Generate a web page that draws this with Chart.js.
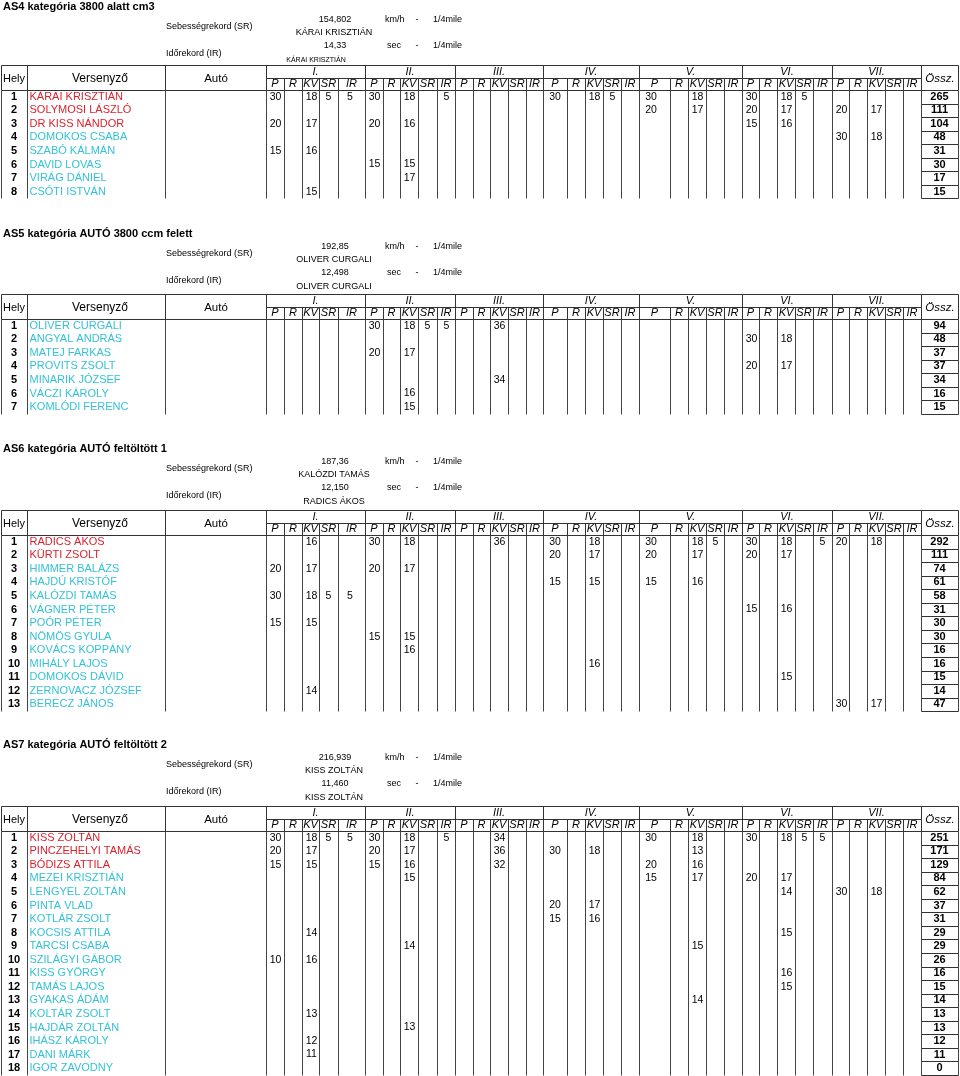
<!DOCTYPE html>
<html>
<head>
<meta charset="utf-8">
<script src="https://cdn.jsdelivr.net/npm/chart.js@4.4.1/dist/chart.umd.min.js"></script>
<style>
    body { margin: 0; background: #fff; }
    canvas { display: block; }
</style>
</head>
<body>
<canvas id="resultsChart" width="960" height="1076"></canvas>
<script>
// Column headers
const rounds = ['I.', 'II.', 'III.', 'IV.', 'V.', 'VI.', 'VII.'];
const scoreCols = ['P', 'R', 'KV', 'SR', 'IR'];

// AS4
const as4Title = 'AS4 kategória 3800 alatt cm3';
const as4Records = ['154,802', 'KÁRAI KRISZTIÁN', '14,33', 'KÁRAI KRISZTIÁN'];
const as4Names = ['KÁRAI KRISZTIÁN', 'SOLYMOSI LÁSZLÓ', 'DR KISS NÁNDOR', 'DOMOKOS CSABA',
    'SZABÓ KÁLMÁN', 'DAVID LOVAS', 'VIRÁG DÁNIEL', 'CSÓTI ISTVÁN'];
const as4RedCount = 3;
const as4Scores = [
    [[30, , 18, 5, 5], [30, , 18, , 5], [], [30, , 18, 5], [30, , 18], [30, , 18, 5], []],
    [[], [], [], [], [20, , 17], [20, , 17], [20, , 17]],
    [[20, , 17], [20, , 16], [], [], [], [15, , 16]],
    [[], [], [], [], [], [], [30, , 18]],
    [[15, , 16]],
    [[], [15, , 15]],
    [[], [, , 17]],
    [[, , 15]]
];
const as4Totals = [265, 111, 104, 48, 31, 30, 17, 15];

// AS5
const as5Title = 'AS5 kategória AUTÓ 3800 ccm felett';
const as5Records = ['192,85', 'OLIVER CURGALI', '12,498', 'OLIVER CURGALI'];
const as5Names = ['OLIVER CURGALI', 'ANGYAL ANDRÁS', 'MATEJ FARKAS', 'PROVITS ZSOLT',
    'MINARIK JÓZSEF', 'VÁCZI KÁROLY', 'KOMLÓDI FERENC'];
const as5RedCount = 0;
const as5Scores = [
    [[], [30, , 18, 5, 5], [, , 36]],
    [[], [], [], [], [], [30, , 18]],
    [[], [20, , 17]],
    [[], [], [], [], [], [20, , 17]],
    [[], [], [, , 34]],
    [[], [, , 16]],
    [[], [, , 15]]
];
const as5Totals = [94, 48, 37, 37, 34, 16, 15];

// AS6
const as6Title = 'AS6 kategória AUTÓ feltöltött 1';
const as6Records = ['187,36', 'KALÓZDI TAMÁS', '12,150', 'RADICS ÁKOS'];
const as6Names = ['RADICS ÁKOS', 'KÜRTI ZSOLT', 'HIMMER BALÁZS', 'HAJDÚ KRISTÓF', 'KALÓZDI TAMÁS',
    'VÁGNER PÉTER', 'POÓR PÉTER', 'NÖMÖS GYULA', 'KOVÁCS KOPPÁNY', 'MIHÁLY LAJOS',
    'DOMOKOS DÁVID', 'ZERNOVACZ JÓZSEF', 'BERECZ JÁNOS'];
const as6RedCount = 2;
const as6Scores = [
    [[, , 16], [30, , 18], [, , 36], [30, , 18], [30, , 18, 5], [30, , 18, , 5], [20, , 18]],
    [[], [], [], [20, , 17], [20, , 17], [20, , 17]],
    [[20, , 17], [20, , 17]],
    [[], [], [], [15, , 15], [15, , 16]],
    [[30, , 18, 5, 5]],
    [[], [], [], [], [], [15, , 16]],
    [[15, , 15]],
    [[], [15, , 15]],
    [[], [, , 16]],
    [[], [], [], [, , 16]],
    [[], [], [], [], [], [, , 15]],
    [[, , 14]],
    [[], [], [], [], [], [], [30, , 17]]
];
const as6Totals = [292, 111, 74, 61, 58, 31, 30, 30, 16, 16, 15, 14, 47];

// AS7
const as7Title = 'AS7 kategória AUTÓ feltöltött 2';
const as7Records = ['216,939', 'KISS ZOLTÁN', '11,460', 'KISS ZOLTÁN'];
const as7Names = ['KISS ZOLTÁN', 'PINCZEHELYI TAMÁS', 'BÓDIZS ATTILA', 'MEZEI KRISZTIÁN',
    'LENGYEL ZOLTÁN', 'PINTA VLAD', 'KOTLÁR ZSOLT', 'KOCSIS ATTILA', 'TARCSI CSABA',
    'SZILÁGYI GÁBOR', 'KISS GYÖRGY', 'TAMÁS LAJOS', 'GYAKAS ÁDÁM', 'KOLTÁR ZSOLT',
    'HAJDÁR ZOLTÁN', 'IHÁSZ KÁROLY', 'DANI MÁRK', 'IGOR ZAVODNY'];
const as7RedCount = 3;
const as7Scores = [
    [[30, , 18, 5, 5], [30, , 18, , 5], [, , 34], [], [30, , 18], [30, , 18, 5, 5]],
    [[20, , 17], [20, , 17], [, , 36], [30, , 18], [, , 13]],
    [[15, , 15], [15, , 16], [, , 32], [], [20, , 16]],
    [[], [, , 15], [], [], [15, , 17], [20, , 17]],
    [[], [], [], [], [], [, , 14], [30, , 18]],
    [[], [], [], [20, , 17]],
    [[], [], [], [15, , 16]],
    [[, , 14], [], [], [], [], [, , 15]],
    [[], [, , 14], [], [], [, , 15]],
    [[10, , 16]],
    [[], [], [], [], [], [, , 16]],
    [[], [], [], [], [], [, , 15]],
    [[], [], [], [], [, , 14]],
    [[, , 13]],
    [[], [, , 13]],
    [[, , 12]],
    [[, , 11]],
    []
];
const as7Totals = [251, 171, 129, 84, 62, 37, 31, 29, 29, 26, 16, 15, 14, 13, 13, 12, 11, 0];

// layout (page units, mapped through the chart scales)
const tableTops = [65, 294, 510, 806];
const headShift = [2, 0, -1, -1.5];
const fixedEdges = [1, 27, 165, 266];
const roundEdges = [
    [266, 284, 302, 319, 338, 365],
    [365, 383, 400, 418, 437, 455],
    [455, 473, 490, 508, 526, 543],
    [543, 567, 585, 603, 621, 639],
    [639, 670, 688, 706, 724, 742],
    [742, 759, 777, 795, 813, 832],
    [832, 849, 867, 885, 903, 921]
];
const totalEdges = [921, 958];
const GROUP_H = 12.5;
const HEAD_H = 25;
const ROW_H = 13.55;

const RED = '#d9232e';
const CYAN = '#34c2d8';
const FONT = '"Liberation Sans", Arial, sans-serif';

const sections = [
    { title: as4Title, records: as4Records, names: as4Names, red: as4RedCount, scores: as4Scores, totals: as4Totals, holderSizes: [9, 7], holderX: [334, 316] },
    { title: as5Title, records: as5Records, names: as5Names, red: as5RedCount, scores: as5Scores, totals: as5Totals, holderSizes: [9, 9], holderX: [334, 334] },
    { title: as6Title, records: as6Records, names: as6Names, red: as6RedCount, scores: as6Scores, totals: as6Totals, holderSizes: [9, 9], holderX: [334, 334] },
    { title: as7Title, records: as7Records, names: as7Names, red: as7RedCount, scores: as7Scores, totals: as7Totals, holderSizes: [9, 9], holderX: [334, 334] }
];

function cellCenter(left, right) {
    return left + (right - left > 20 ? 12 : 9.5);
}

// one text dataset per kind of cell
const placeSet = { label: 'Hely', data: [], font: 'bold 11px ' + FONT, align: 'center' };
const nameSet = { label: 'Versenyző', data: [], font: '11px ' + FONT, align: 'left' };
const scoreSet = { label: 'Pont', data: [], font: '10.5px ' + FONT, align: 'center' };
const totalSet = { label: 'Össz.', data: [], font: 'bold 11px ' + FONT, align: 'center' };

sections.forEach((s, si) => {
    s.names.forEach((name, i) => {
        const y = tableTops[si] + HEAD_H + ROW_H * i + ROW_H / 2;
        placeSet.data.push({ x: 14, y: y, text: String(i + 1) });
        nameSet.data.push({ x: 29.5, y: y, text: name, color: i < s.red ? RED : CYAN });
        const row = s.scores[i] || [];
        for (let r = 0; r < rounds.length; r++) {
            const vals = row[r] || [];
            for (let c = 0; c < scoreCols.length; c++) {
                if (vals[c] == null) continue;
                const e = roundEdges[r];
                scoreSet.data.push({ x: cellCenter(e[c], e[c + 1]), y: y, text: String(vals[c]) });
            }
        }
        totalSet.data.push({ x: (totalEdges[0] + totalEdges[1]) / 2, y: y, text: String(s.totals[i]) });
    });
});

// grid, headers and record lines
const tableGrid = {
    id: 'tableGrid',
    beforeDatasetsDraw(chart) {
        const ctx = chart.ctx;
        const X = v => Math.round(chart.scales.x.getPixelForValue(v)) + 0.5;
        const Y = v => Math.round(chart.scales.y.getPixelForValue(v)) + 0.5;
        const TX = v => chart.scales.x.getPixelForValue(v);
        const TY = v => chart.scales.y.getPixelForValue(v);
        const line = (x1, y1, x2, y2) => {
            ctx.beginPath();
            ctx.moveTo(X(x1), Y(y1));
            ctx.lineTo(X(x2), Y(y2));
            ctx.stroke();
        };
        const text = (str, x, y, font, align) => {
            ctx.font = font;
            ctx.textAlign = align;
            ctx.fillText(str, TX(x), TY(y));
        };
        ctx.save();
        ctx.textBaseline = 'middle';
        ctx.fillStyle = '#000';
        sections.forEach((s, si) => {
            const top = tableTops[si];
            const h = top + headShift[si];
            const mid = top + GROUP_H;
            const head = top + HEAD_H;
            const bottom = head + s.names.length * ROW_H;
            const allEdges = fixedEdges.concat(...roundEdges.map(e => e.slice(1)), totalEdges.slice(1));
            const left = fixedEdges[0], right = totalEdges[1];

            // title and records
            const small = '9px ' + FONT;
            text(s.title, 3, h - 60, 'bold 11px ' + FONT, 'left');
            text('Sebességrekord (SR)', 166, h - 40, small, 'left');
            text('Időrekord (IR)', 166, h - 13, small, 'left');
            text(s.records[0], 335, h - 47, small, 'center');
            text('km/h', 385, h - 47, small, 'left');
            text('-', 417, h - 47, small, 'center');
            text('1/4mile', 433, h - 47, small, 'left');
            text(s.records[1], s.holderX[0], h - 34, s.holderSizes[0] + 'px ' + FONT, 'center');
            text(s.records[2], 335, h - 21, small, 'center');
            text('sec', 387, h - 21, small, 'left');
            text('-', 417, h - 21, small, 'center');
            text('1/4mile', 433, h - 21, small, 'left');
            text(s.records[3], s.holderX[1], h - 7, s.holderSizes[1] + 'px ' + FONT, 'center');

            // header lines
            ctx.strokeStyle = '#333';
            ctx.lineWidth = 1;
            line(left, top, right, top);
            line(roundEdges[0][0], mid, totalEdges[0], mid);
            line(left, head, right, head);
            fixedEdges.concat(totalEdges).forEach(x => line(x, top, x, head));
            roundEdges.forEach(e => {
                line(e[e.length - 1], top, e[e.length - 1], head);
                e.slice(1, -1).forEach(x => line(x, mid, x, head));
            });

            // body lines
            ctx.strokeStyle = '#444';
            allEdges.forEach(x => line(x, head, x, bottom));
            ctx.strokeStyle = '#333';
            for (let i = 1; i <= s.names.length; i++) {
                line(totalEdges[0], head + ROW_H * i, totalEdges[1], head + ROW_H * i);
            }

            // header texts
            text('Hely', 14, top + 13.5, '11px ' + FONT, 'center');
            text('Versenyző', 100, top + 13.5, '12px ' + FONT, 'center');
            text('Autó', 216, top + 13.5, '11.5px ' + FONT, 'center');
            text('Össz.', 940, top + 13.5, 'italic 11.5px ' + FONT, 'center');
            rounds.forEach((rn, r) => {
                const e = roundEdges[r];
                text(rn, (e[0] + e[e.length - 1]) / 2, top + 6.5, 'italic 11px ' + FONT, 'center');
                scoreCols.forEach((c, ci) => {
                    text(c, (e[ci] + e[ci + 1]) / 2, top + 19, 'italic 11px ' + FONT, 'center');
                });
            });
        });
        ctx.restore();
    }
};

// draws each dataset point as a text cell
const cellText = {
    id: 'cellText',
    afterDatasetsDraw(chart) {
        const ctx = chart.ctx;
        ctx.save();
        ctx.textBaseline = 'middle';
        chart.data.datasets.forEach((ds, di) => {
            const meta = chart.getDatasetMeta(di);
            ctx.font = ds.font;
            ctx.textAlign = ds.align;
            meta.data.forEach((pt, i) => {
                const d = ds.data[i];
                ctx.fillStyle = d.color || '#000';
                ctx.fillText(d.text, pt.x, pt.y);
            });
        });
        ctx.restore();
    }
};

new Chart(document.getElementById('resultsChart').getContext('2d'), {
    type: 'scatter',
    data: { datasets: [placeSet, nameSet, scoreSet, totalSet] },
    options: {
        responsive: false,
        animation: false,
        devicePixelRatio: 1,
        layout: { padding: 0 },
        elements: { point: { radius: 0, hoverRadius: 0 } },
        plugins: {
            legend: { display: false },
            tooltip: { enabled: false }
        },
        scales: {
            x: { type: 'linear', min: 0, max: 960, display: false },
            y: { type: 'linear', min: 0, max: 1076, reverse: true, display: false }
        }
    },
    plugins: [tableGrid, cellText]
});
</script>
</body>
</html>
